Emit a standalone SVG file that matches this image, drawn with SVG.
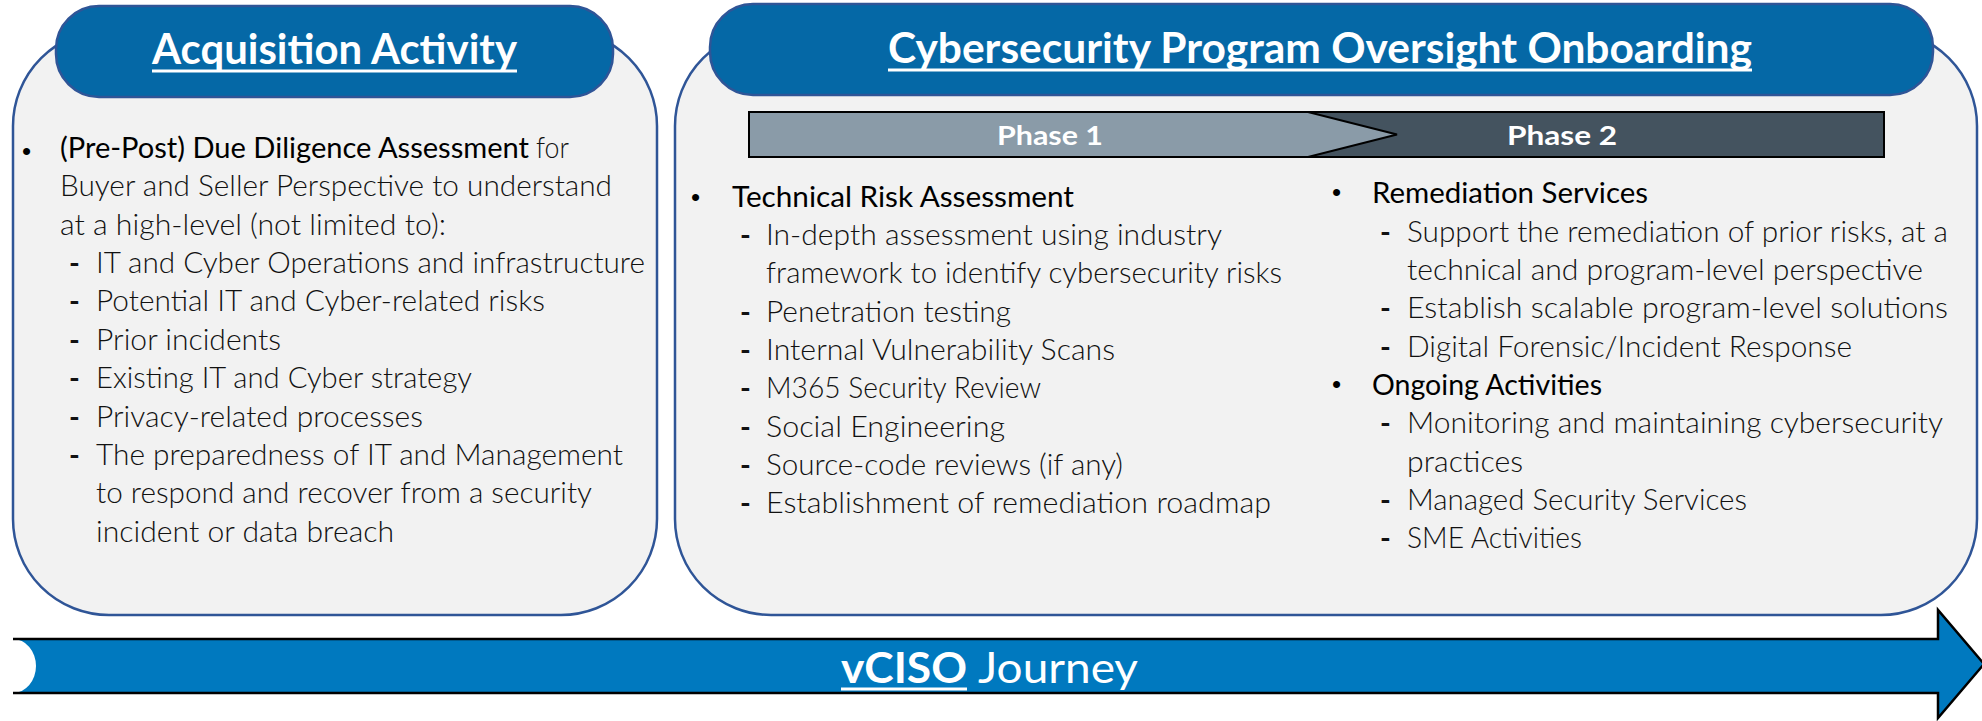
<svg xmlns="http://www.w3.org/2000/svg" width="1982" height="721" viewBox="0 0 1982 721">
  <style>
    .panel { fill: #F2F2F2; stroke: #2F5597; stroke-width: 2.5; }
    .pill { fill: #0568A6; stroke: #2F5597; stroke-width: 2.5; }
    .title { font-family: Lato, "Liberation Sans", sans-serif; font-weight: 700; font-size: 42px; fill: #FFFFFF; }
    .uline { stroke: #FFFFFF; stroke-width: 3; }
    .head { font-family: Lato, "Liberation Sans", sans-serif; font-weight: 400; font-size: 29px; fill: #000000; }
    .item { font-family: Lato, "Liberation Sans", sans-serif; font-weight: 300; font-size: 29px; fill: #111111; }
    .dash { font-family: Lato, "Liberation Sans", sans-serif; font-weight: 700; font-size: 29px; fill: #111111; }
    .dot { font-family: "Liberation Sans", Arial, sans-serif; font-size: 26px; fill: #000000; }
    .phase { font-family: Lato, "Liberation Sans", sans-serif; font-weight: 700; font-size: 26px; fill: #FFFFFF; }
    .journey { font-family: Lato, "Liberation Sans", sans-serif; font-size: 42px; fill: #FFFFFF; }
  </style>

  <rect width="1982" height="721" fill="#FFFFFF"/>

  <!-- Left panel: acquisition work -->
  <g id="acquisition-activity">
    <rect class="panel" x="13" y="30" width="644" height="585" rx="96" ry="96"/>
    <rect class="pill" x="56" y="6" width="557" height="91" rx="43" ry="43"/>
    <text class="title" x="152" y="64" textLength="365" lengthAdjust="spacingAndGlyphs">Acquisition Activity</text>
    <line class="uline" x1="152" y1="71" x2="517" y2="71"/>

    <text class="dot" x="22" y="160">•</text>
    <text class="head" x="60" y="158" textLength="469" lengthAdjust="spacingAndGlyphs">(Pre-Post) Due Diligence Assessment</text>
    <text class="item" x="536" y="158" textLength="33" lengthAdjust="spacingAndGlyphs">for</text>
    <text class="item" x="60" y="196" textLength="552" lengthAdjust="spacingAndGlyphs">Buyer and Seller Perspective to understand</text>
    <text class="item" x="60" y="235" textLength="386" lengthAdjust="spacingAndGlyphs">at a high-level (not limited to):</text>

    <g class="dash">
      <text x="69" y="273">-</text>
      <text x="69" y="311">-</text>
      <text x="69" y="350">-</text>
      <text x="69" y="388">-</text>
      <text x="69" y="427">-</text>
      <text x="69" y="465">-</text>
    </g>
    <g class="item">
      <text x="96" y="273" textLength="549" lengthAdjust="spacingAndGlyphs">IT and Cyber Operations and infrastructure</text>
      <text x="96" y="311" textLength="449" lengthAdjust="spacingAndGlyphs">Potential IT and Cyber-related risks</text>
      <text x="96" y="350" textLength="185" lengthAdjust="spacingAndGlyphs">Prior incidents</text>
      <text x="96" y="388" textLength="376" lengthAdjust="spacingAndGlyphs">Existing IT and Cyber strategy</text>
      <text x="96" y="427" textLength="327" lengthAdjust="spacingAndGlyphs">Privacy-related processes</text>
      <text x="96" y="465" textLength="527" lengthAdjust="spacingAndGlyphs">The preparedness of IT and Management</text>
      <text x="96" y="503" textLength="496" lengthAdjust="spacingAndGlyphs">to respond and recover from a security</text>
      <text x="96" y="542" textLength="298" lengthAdjust="spacingAndGlyphs">incident or data breach</text>
    </g>
  </g>

  <!-- Right panel: program oversight onboarding -->
  <g id="program-onboarding">
    <rect class="panel" x="675" y="30" width="1302" height="585" rx="96" ry="96"/>
    <rect class="pill" x="710" y="4" width="1223" height="91" rx="43" ry="43"/>
    <text class="title" x="888" y="63" textLength="864" lengthAdjust="spacingAndGlyphs">Cybersecurity Program Oversight Onboarding</text>
    <line class="uline" x1="888" y1="70" x2="1752" y2="70"/>
  </g>

  <!-- Phase ribbon -->
  <g id="phase-2">
    <rect x="1240" y="112" width="644" height="45" fill="#44535F" stroke="#000000" stroke-width="2"/>
    <text class="phase" x="1507" y="145" textLength="110" lengthAdjust="spacingAndGlyphs">Phase 2</text>
  </g>
  <g id="phase-1">
    <polygon points="749,112 1308,112 1397,134.5 1308,157 749,157" fill="#8A9BA8" stroke="#000000" stroke-width="2"/>
    <text class="phase" x="997" y="145" textLength="106" lengthAdjust="spacingAndGlyphs">Phase 1</text>
  </g>

  <!-- Phase 1 column -->
  <g id="technical-risk-assessment">
    <text class="dot" x="691" y="206">•</text>
    <text class="head" x="732" y="207" textLength="342" lengthAdjust="spacingAndGlyphs">Technical Risk Assessment</text>
    <g class="dash">
      <text x="740" y="245">-</text>
      <text x="740" y="322">-</text>
      <text x="740" y="360">-</text>
      <text x="740" y="398">-</text>
      <text x="740" y="437">-</text>
      <text x="740" y="475">-</text>
      <text x="740" y="513">-</text>
    </g>
    <g class="item">
      <text x="766" y="245" textLength="456" lengthAdjust="spacingAndGlyphs">In-depth assessment using industry</text>
      <text x="766" y="283" textLength="516" lengthAdjust="spacingAndGlyphs">framework to identify cybersecurity risks</text>
      <text x="766" y="322" textLength="245" lengthAdjust="spacingAndGlyphs">Penetration testing</text>
      <text x="766" y="360" textLength="349" lengthAdjust="spacingAndGlyphs">Internal Vulnerability Scans</text>
      <text x="766" y="398" textLength="275" lengthAdjust="spacingAndGlyphs">M365 Security Review</text>
      <text x="766" y="437" textLength="239" lengthAdjust="spacingAndGlyphs">Social Engineering</text>
      <text x="766" y="475" textLength="357" lengthAdjust="spacingAndGlyphs">Source-code reviews (if any)</text>
      <text x="766" y="513" textLength="505" lengthAdjust="spacingAndGlyphs">Establishment of remediation roadmap</text>
    </g>
  </g>

  <!-- Phase 2 column -->
  <g id="remediation-services">
    <text class="dot" x="1332" y="201">•</text>
    <text class="head" x="1372" y="203" textLength="276" lengthAdjust="spacingAndGlyphs">Remediation Services</text>
    <g class="dash">
      <text x="1380" y="242">-</text>
      <text x="1380" y="318">-</text>
      <text x="1380" y="357">-</text>
    </g>
    <g class="item">
      <text x="1407" y="242" textLength="541" lengthAdjust="spacingAndGlyphs">Support the remediation of prior risks, at a</text>
      <text x="1407" y="280" textLength="516" lengthAdjust="spacingAndGlyphs">technical and program-level perspective</text>
      <text x="1407" y="318" textLength="541" lengthAdjust="spacingAndGlyphs">Establish scalable program-level solutions</text>
      <text x="1407" y="357" textLength="445" lengthAdjust="spacingAndGlyphs">Digital Forensic/Incident Response</text>
    </g>
  </g>
  <g id="ongoing-activities">
    <text class="dot" x="1332" y="393">•</text>
    <text class="head" x="1372" y="395" textLength="230" lengthAdjust="spacingAndGlyphs">Ongoing Activities</text>
    <g class="dash">
      <text x="1380" y="433">-</text>
      <text x="1380" y="510">-</text>
      <text x="1380" y="548">-</text>
    </g>
    <g class="item">
      <text x="1407" y="433" textLength="536" lengthAdjust="spacingAndGlyphs">Monitoring and maintaining cybersecurity</text>
      <text x="1407" y="472" textLength="116" lengthAdjust="spacingAndGlyphs">practices</text>
      <text x="1407" y="510" textLength="340" lengthAdjust="spacingAndGlyphs">Managed Security Services</text>
      <text x="1407" y="548" textLength="175" lengthAdjust="spacingAndGlyphs">SME Activities</text>
    </g>
  </g>

  <!-- Journey arrow along the bottom -->
  <g id="vciso-journey">
    <path d="M13,639 H1938 V610 L1984,664 L1938,718 V693 H13 A23,27 0 0 0 13,639 Z" fill="#0079BF"/>
    <path d="M13,639 H1938 V610 L1984,664 L1938,718 V693 H13" fill="none" stroke="#000000" stroke-width="2.5" stroke-linejoin="miter"/>
    <text class="journey" x="841" y="683"><tspan font-weight="700" textLength="126" lengthAdjust="spacingAndGlyphs">vCISO</tspan></text>
    <text class="journey" x="978" y="683" font-weight="400" textLength="160" lengthAdjust="spacingAndGlyphs">Journey</text>
    <line class="uline" x1="841" y1="689" x2="967" y2="689"/>
  </g>
</svg>
